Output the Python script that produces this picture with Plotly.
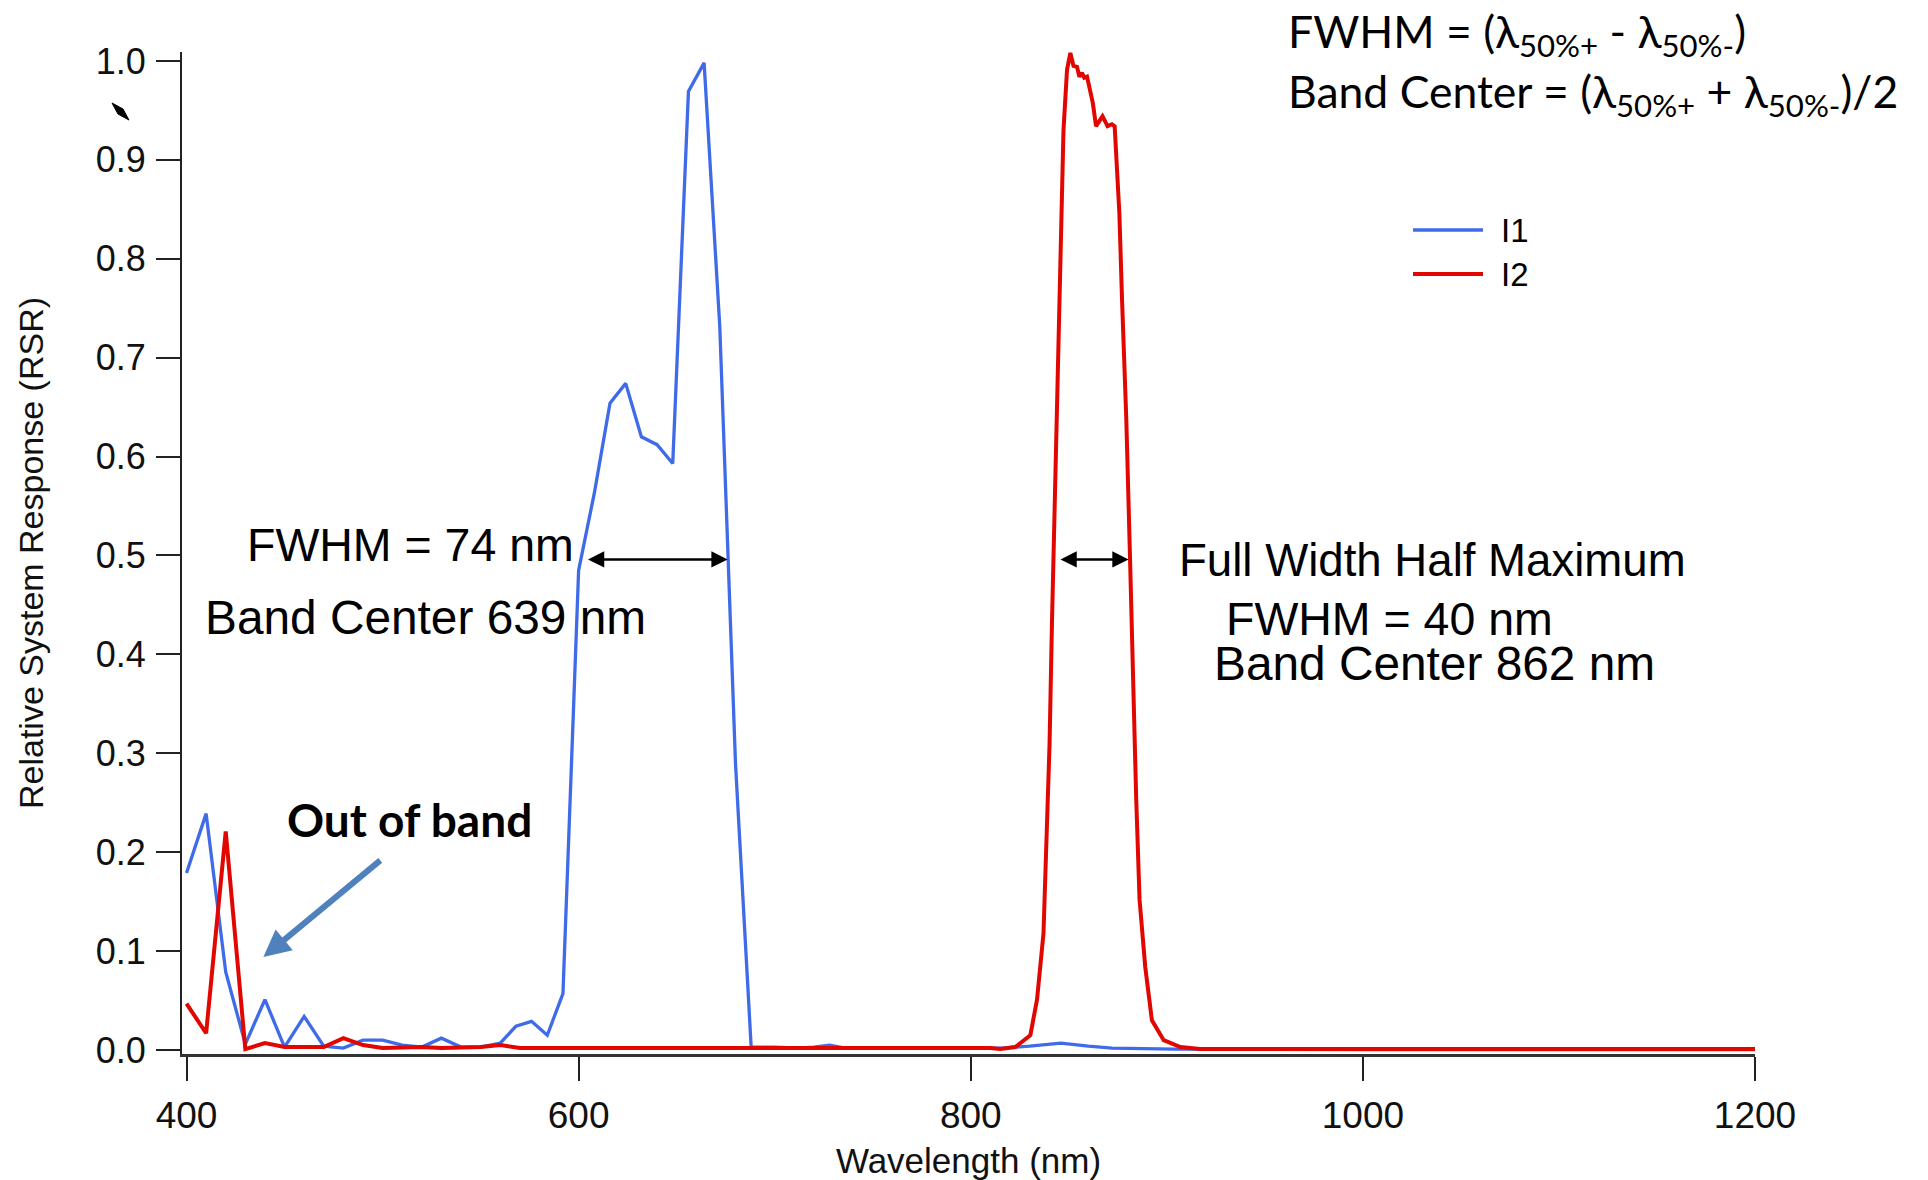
import plotly.graph_objects as go

# ---- Relative system response of the two imager bands ----
wl_i1 = [400, 410, 420, 430, 440, 450, 460, 470, 480, 490, 500, 510, 520, 530,
         540, 550, 560, 568, 576, 584, 592, 600, 608, 616, 624, 632, 640, 648,
         656, 664, 672, 680, 688, 700, 712, 720, 728, 736, 760, 800, 816, 830,
         846, 860, 872, 904, 1000, 1200]
rsr_i1 = [0.179, 0.239, 0.079, 0.006, 0.051, 0.003, 0.034, 0.004, 0.002, 0.010,
          0.010, 0.005, 0.003, 0.012, 0.003, 0.003, 0.007, 0.024, 0.029, 0.015,
          0.057, 0.485, 0.563, 0.654, 0.674, 0.620, 0.612, 0.593, 0.969, 0.998,
          0.731, 0.290, 0.003, 0.003, 0.002, 0.003, 0.005, 0.002, 0.002, 0.002,
          0.002, 0.004, 0.007, 0.004, 0.002, 0.001, 0.0005, 0.0005]

wl_i2 = [400, 410, 420, 430, 440, 450, 460, 470, 480, 490, 500, 510, 520, 530,
         540, 550, 560, 570, 580, 600, 610, 620, 650, 680, 700, 720, 750, 790,
         810, 815, 822.7, 830.4, 833.8, 837.1, 838.9, 840.2, 841.4, 844.0,
         845.7, 847.3, 849.1, 850.8, 852.4, 854.2, 855.4, 856.7, 857.9, 859.3,
         860.1, 862.3, 863.9, 867.2, 869.8, 872.0, 873.4, 874.6, 875.8, 877.1,
         878.3, 879.3, 881.2, 883.0, 884.4, 886.1, 889.0, 892.4, 898.4, 906.9,
         917, 950, 1000, 1100, 1200]
rsr_i2 = [0.047, 0.017, 0.221, 0.001, 0.007, 0.003, 0.003, 0.003, 0.012, 0.005,
          0.002, 0.003, 0.003, 0.002, 0.002, 0.003, 0.005, 0.002, 0.002, 0.002,
          0.003, 0.002, 0.002, 0.002, 0.002, 0.002, 0.002, 0.003, 0.002, 0.001,
          0.003, 0.015, 0.051, 0.118, 0.219, 0.310, 0.430, 0.650, 0.822, 0.930,
          0.991, 1.008, 0.995, 0.994, 0.984, 0.988, 0.983, 0.984, 0.977, 0.957,
          0.934, 0.944, 0.934, 0.936, 0.934, 0.897, 0.846, 0.762, 0.694, 0.640,
          0.500, 0.354, 0.253, 0.152, 0.084, 0.030, 0.010, 0.003, 0.001, 0.001,
          0.001, 0.001, 0.001]

# half-maximum markers (wavelength pairs, response level)
fwhm_i1 = (604, 676)
fwhm_i2 = (845, 880.5)
half_level = 0.496

x_ticks = [400, 600, 800, 1000, 1200]
y_ticks = [0.0, 0.1, 0.2, 0.3, 0.4, 0.5, 0.6, 0.7, 0.8, 0.9, 1.0]

BLUE = "#3F6BE8"
RED = "#E10600"
ARROW_BLUE = "#4F81BD"
SANS = "Liberation Sans, Arial, sans-serif"
CAL = "Lato, Open Sans, sans-serif"

W, H = 1928, 1180
L, R, T, B = 182, 1755, 52, 1054


def px(x):
    return (x - L) / (R - L)


def py(y):
    return (B - y) / (B - T)


fig = go.Figure()
fig.add_trace(go.Scatter(x=wl_i1, y=rsr_i1, mode="lines", name="I1",
                         line=dict(color=BLUE, width=3.3), showlegend=False))
fig.add_trace(go.Scatter(x=wl_i2, y=rsr_i2, mode="lines", name="I2",
                         line=dict(color=RED, width=4), showlegend=False))

ann = []


def label(text, cx, cy, size, font=SANS, bold=False, anchor="center"):
    ann.append(dict(text=("<b>%s</b>" % text) if bold else text,
                    x=px(cx), y=py(cy), xref="paper", yref="paper",
                    xanchor=anchor, yanchor="middle", showarrow=False,
                    font=dict(family=font, size=size, color="black")))


label("FWHM = 74 nm", 410, 545, 46.5)
label("Band Center 639 nm", 425, 617, 47.8)
label("Full Width Half Maximum", 1432, 560, 45.6)
label("FWHM = 40 nm", 1389, 619, 46.5)
label("Band Center 862 nm", 1434, 664, 47.8)
label("Out of band", 409, 819, 46, font=CAL, bold=True)
label("FWHM = (λ<sub>50%+</sub> - λ<sub>50%-</sub>)", 1286, 34, 44.5, font=CAL, anchor="left")
label("Band Center = (λ<sub>50%+</sub> + λ<sub>50%-</sub>)/2", 1286, 94, 44.5, font=CAL, anchor="left")

# legend entries
label("I1", 1499, 230, 33, anchor="left")
label("I2", 1499, 274, 33, anchor="left")

# double-headed FWHM arrows
for (a, b) in (fwhm_i1, fwhm_i2):
    ann.append(dict(x=b, y=half_level, ax=a, ay=half_level, xref="x", yref="y",
                    axref="x", ayref="y", text="", showarrow=True,
                    arrowside="end+start", arrowhead=2, startarrowhead=2,
                    arrowsize=1.3, startarrowsize=1.3, arrowwidth=2.5,
                    arrowcolor="black", standoff=0, startstandoff=0))

# pointer to the out-of-band response
ann.append(dict(x=439.2, y=0.094, ax=499.6, ay=0.193, xref="x", yref="y",
                axref="x", ayref="y", text="", showarrow=True, arrowhead=2,
                arrowsize=0.9, arrowwidth=6, arrowcolor=ARROW_BLUE, standoff=0))

shapes = [
    dict(type="line", xref="paper", yref="paper", x0=px(1413), x1=px(1483),
         y0=py(230), y1=py(230), line=dict(color=BLUE, width=3.3)),
    dict(type="line", xref="paper", yref="paper", x0=px(1413), x1=px(1483),
         y0=py(274), y1=py(274), line=dict(color=RED, width=4)),
    dict(type="path", xref="paper", yref="paper",
         path="M %.4f,%.4f L %.4f,%.4f L %.4f,%.4f L %.4f,%.4f Z" % (
             px(112), py(103), px(123), py(109), px(129), py(120), px(118), py(114)),
         fillcolor="black", line=dict(color="black", width=1)),
]

fig.update_layout(
    width=W, height=H,
    margin=dict(l=L, r=W - R, t=T, b=H - B, autoexpand=False),
    paper_bgcolor="white", plot_bgcolor="white",
    font=dict(family=SANS, color="#111"),
    annotations=ann, shapes=shapes, showlegend=False,
)
fig.update_xaxes(range=[397.7, 1200], tickvals=x_ticks,
                 ticks="outside", ticklen=24, tickwidth=2, tickcolor="#222",
                 showline=True, linecolor="#333", linewidth=2.5,
                 showgrid=False, zeroline=False,
                 tickfont=dict(size=37, family=SANS, color="#111"),
                 ticklabelstandoff=3,
                 title=dict(text="Wavelength (nm)", font=dict(size=35, family=SANS, color="#111"),
                            standoff=16))
fig.update_yaxes(range=[-0.004, 1.009], tickvals=y_ticks, tickformat=".1f",
                 ticks="outside", ticklen=24, tickwidth=2, tickcolor="#222",
                 showline=True, linecolor="#222", linewidth=2,
                 showgrid=False, zeroline=False,
                 tickfont=dict(size=36, family=SANS, color="#111"),
                 ticklabelstandoff=3,
                 title=dict(text="Relative System Response (RSR)",
                            font=dict(size=34, family=SANS, color="#111"), standoff=42))

fig.write_html("out.html")
